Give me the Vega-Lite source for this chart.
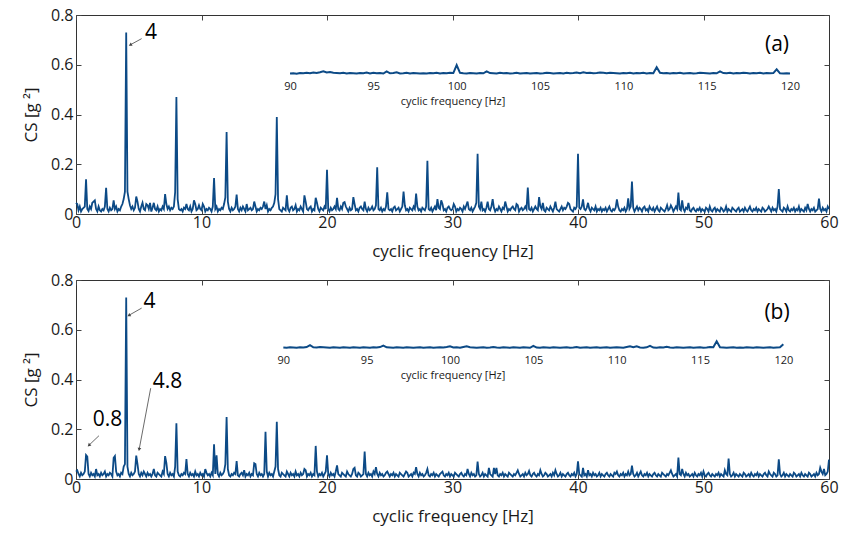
{
"$schema":"https://vega.github.io/schema/vega-lite/v6.json",
"padding":{"left":22,"top":6,"right":8,"bottom":5},
"spacing":11,
"config":{"font":"Open Sans","view":{"stroke":"#333","strokeWidth":1},
"axis":{"grid":false,"domain":false,"labelFlush":false,"labelColor":"#1a1a1a","titleColor":"#1a1a1a","tickColor":"#444","labelFontSize":16,"titleFontSize":17,"titleFontWeight":"normal","labelFont":"Open Sans","titleFont":"Open Sans"}},
"datasets":{
"main":[
{"f":0,"a":0.045,"b":0.03},{"f":0.1,"a":0.04,"b":0.035},{"f":0.2,"a":0.015,"b":0.02},{"f":0.3,"a":0.03,"b":0.01},{"f":0.4,"a":0.01,"b":0.025},{"f":0.5,"a":0.02,"b":0.015},{"f":0.6,"a":0.025,"b":0.02},{"f":0.7,"a":0.03,"b":0.03},{"f":0.8,"a":0.14,"b":0.096},{"f":0.9,"a":0.02,"b":0.09},
{"f":1,"a":0.012,"b":0.02},{"f":1.1,"a":0.03,"b":0.01},{"f":1.2,"a":0.02,"b":0.025},{"f":1.3,"a":0.045,"b":0.015},{"f":1.4,"a":0.05,"b":0.02},{"f":1.5,"a":0.055,"b":0.01},{"f":1.6,"a":0.02,"b":0.04},{"f":1.7,"a":0.01,"b":0.015},{"f":1.8,"a":0.03,"b":0.02},{"f":1.9,"a":0.015,"b":0.01},
{"f":2,"a":0.01,"b":0.025},{"f":2.1,"a":0.02,"b":0.015},{"f":2.2,"a":0.015,"b":0.02},{"f":2.3,"a":0.03,"b":0.03},{"f":2.4,"a":0.105,"b":0.01},{"f":2.5,"a":0.02,"b":0.02},{"f":2.6,"a":0.01,"b":0.015},{"f":2.7,"a":0.025,"b":0.025},{"f":2.8,"a":0.015,"b":0.02},{"f":2.9,"a":0.02,"b":0.01},
{"f":3,"a":0.055,"b":0.085},{"f":3.1,"a":0.02,"b":0.092},{"f":3.2,"a":0.03,"b":0.03},{"f":3.3,"a":0.01,"b":0.015},{"f":3.4,"a":0.02,"b":0.02},{"f":3.5,"a":0.015,"b":0.01},{"f":3.6,"a":0.03,"b":0.025},{"f":3.7,"a":0.04,"b":0.02},{"f":3.8,"a":0.06,"b":0.05},{"f":3.9,"a":0.09,"b":0.06},
{"f":4,"a":0.73,"b":0.73},{"f":4.1,"a":0.09,"b":0.05},{"f":4.2,"a":0.06,"b":0.02},{"f":4.3,"a":0.035,"b":0.01},{"f":4.4,"a":0.02,"b":0.025},{"f":4.5,"a":0.03,"b":0.015},{"f":4.6,"a":0.015,"b":0.02},{"f":4.7,"a":0.025,"b":0.03},{"f":4.8,"a":0.07,"b":0.094},{"f":4.9,"a":0.05,"b":0.06},
{"f":5,"a":0.02,"b":0.02},{"f":5.1,"a":0.01,"b":0.01},{"f":5.2,"a":0.03,"b":0.025},{"f":5.3,"a":0.045,"b":0.015},{"f":5.4,"a":0.02,"b":0.03},{"f":5.5,"a":0.015,"b":0.02},{"f":5.6,"a":0.04,"b":0.01},{"f":5.7,"a":0.035,"b":0.025},{"f":5.8,"a":0.02,"b":0.015},{"f":5.9,"a":0.045,"b":0.02},
{"f":6,"a":0.01,"b":0.01},{"f":6.1,"a":0.025,"b":0.02},{"f":6.2,"a":0.045,"b":0.04},{"f":6.3,"a":0.02,"b":0.015},{"f":6.4,"a":0.015,"b":0.01},{"f":6.5,"a":0.03,"b":0.025},{"f":6.6,"a":0.01,"b":0.02},{"f":6.7,"a":0.02,"b":0.015},{"f":6.8,"a":0.015,"b":0.01},{"f":6.9,"a":0.03,"b":0.03},
{"f":7,"a":0.02,"b":0.02},{"f":7.1,"a":0.08,"b":0.092},{"f":7.2,"a":0.04,"b":0.065},{"f":7.3,"a":0.02,"b":0.02},{"f":7.4,"a":0.03,"b":0.01},{"f":7.5,"a":0.015,"b":0.025},{"f":7.6,"a":0.025,"b":0.015},{"f":7.7,"a":0.02,"b":0.02},{"f":7.8,"a":0.03,"b":0.01},{"f":7.9,"a":0.088,"b":0.05},
{"f":8,"a":0.47,"b":0.224},{"f":8.1,"a":0.06,"b":0.03},{"f":8.2,"a":0.02,"b":0.015},{"f":8.3,"a":0.015,"b":0.01},{"f":8.4,"a":0.02,"b":0.02},{"f":8.5,"a":0.01,"b":0.015},{"f":8.6,"a":0.025,"b":0.025},{"f":8.7,"a":0.02,"b":0.02},{"f":8.8,"a":0.04,"b":0.08},{"f":8.9,"a":0.02,"b":0.02},
{"f":9,"a":0.015,"b":0.01},{"f":9.1,"a":0.03,"b":0.025},{"f":9.2,"a":0.01,"b":0.015},{"f":9.3,"a":0.02,"b":0.02},{"f":9.4,"a":0.055,"b":0.01},{"f":9.5,"a":0.04,"b":0.03},{"f":9.6,"a":0.015,"b":0.015},{"f":9.7,"a":0.02,"b":0.02},{"f":9.8,"a":0.035,"b":0.01},{"f":9.9,"a":0.02,"b":0.025},
{"f":10,"a":0.015,"b":0.015},{"f":10.1,"a":0.04,"b":0.02},{"f":10.2,"a":0.03,"b":0.01},{"f":10.3,"a":0.01,"b":0.04},{"f":10.4,"a":0.02,"b":0.025},{"f":10.5,"a":0.015,"b":0.015},{"f":10.6,"a":0.025,"b":0.02},{"f":10.7,"a":0.02,"b":0.01},{"f":10.8,"a":0.01,"b":0.025},{"f":10.9,"a":0.03,"b":0.015},
{"f":11,"a":0.145,"b":0.14},{"f":11.1,"a":0.02,"b":0.02},{"f":11.2,"a":0.03,"b":0.095},{"f":11.3,"a":0.01,"b":0.02},{"f":11.4,"a":0.02,"b":0.01},{"f":11.5,"a":0.015,"b":0.025},{"f":11.6,"a":0.025,"b":0.015},{"f":11.7,"a":0.02,"b":0.02},{"f":11.8,"a":0.04,"b":0.03},{"f":11.9,"a":0.067,"b":0.06},
{"f":12,"a":0.33,"b":0.249},{"f":12.1,"a":0.05,"b":0.04},{"f":12.2,"a":0.02,"b":0.015},{"f":12.3,"a":0.01,"b":0.01},{"f":12.4,"a":0.025,"b":0.02},{"f":12.5,"a":0.015,"b":0.015},{"f":12.6,"a":0.02,"b":0.025},{"f":12.7,"a":0.03,"b":0.02},{"f":12.8,"a":0.078,"b":0.072},{"f":12.9,"a":0.02,"b":0.015},
{"f":13,"a":0.01,"b":0.01},{"f":13.1,"a":0.025,"b":0.02},{"f":13.2,"a":0.015,"b":0.025},{"f":13.3,"a":0.03,"b":0.015},{"f":13.4,"a":0.02,"b":0.035},{"f":13.5,"a":0.01,"b":0.01},{"f":13.6,"a":0.04,"b":0.02},{"f":13.7,"a":0.015,"b":0.015},{"f":13.8,"a":0.02,"b":0.025},{"f":13.9,"a":0.025,"b":0.01},
{"f":14,"a":0.015,"b":0.02},{"f":14.1,"a":0.02,"b":0.015},{"f":14.2,"a":0.05,"b":0.063},{"f":14.3,"a":0.03,"b":0.06},{"f":14.4,"a":0.01,"b":0.02},{"f":14.5,"a":0.02,"b":0.01},{"f":14.6,"a":0.015,"b":0.025},{"f":14.7,"a":0.025,"b":0.015},{"f":14.8,"a":0.02,"b":0.02},{"f":14.9,"a":0.03,"b":0.01},
{"f":15,"a":0.05,"b":0.02},{"f":15.1,"a":0.02,"b":0.19},{"f":15.2,"a":0.035,"b":0.03},{"f":15.3,"a":0.01,"b":0.01},{"f":15.4,"a":0.02,"b":0.025},{"f":15.5,"a":0.015,"b":0.015},{"f":15.6,"a":0.025,"b":0.02},{"f":15.7,"a":0.03,"b":0.01},{"f":15.8,"a":0.045,"b":0.03},{"f":15.9,"a":0.08,"b":0.05},
{"f":16,"a":0.39,"b":0.23},{"f":16.1,"a":0.06,"b":0.04},{"f":16.2,"a":0.02,"b":0.015},{"f":16.3,"a":0.015,"b":0.01},{"f":16.4,"a":0.01,"b":0.025},{"f":16.5,"a":0.025,"b":0.02},{"f":16.6,"a":0.02,"b":0.015},{"f":16.7,"a":0.015,"b":0.01},{"f":16.8,"a":0.075,"b":0.03},{"f":16.9,"a":0.02,"b":0.02},
{"f":17,"a":0.01,"b":0.01},{"f":17.1,"a":0.025,"b":0.025},{"f":17.2,"a":0.03,"b":0.015},{"f":17.3,"a":0.015,"b":0.02},{"f":17.4,"a":0.02,"b":0.01},{"f":17.5,"a":0.035,"b":0.03},{"f":17.6,"a":0.01,"b":0.015},{"f":17.7,"a":0.02,"b":0.02},{"f":17.8,"a":0.015,"b":0.01},{"f":17.9,"a":0.03,"b":0.025},
{"f":18,"a":0.02,"b":0.015},{"f":18.1,"a":0.01,"b":0.02},{"f":18.2,"a":0.075,"b":0.04},{"f":18.3,"a":0.05,"b":0.035},{"f":18.4,"a":0.02,"b":0.01},{"f":18.5,"a":0.015,"b":0.02},{"f":18.6,"a":0.025,"b":0.015},{"f":18.7,"a":0.03,"b":0.025},{"f":18.8,"a":0.01,"b":0.01},{"f":18.9,"a":0.02,"b":0.02},
{"f":19,"a":0.015,"b":0.015},{"f":19.1,"a":0.065,"b":0.133},{"f":19.2,"a":0.045,"b":0.03},{"f":19.3,"a":0.02,"b":0.01},{"f":19.4,"a":0.01,"b":0.02},{"f":19.5,"a":0.025,"b":0.015},{"f":19.6,"a":0.02,"b":0.025},{"f":19.7,"a":0.015,"b":0.01},{"f":19.8,"a":0.03,"b":0.02},{"f":19.9,"a":0.02,"b":0.03},
{"f":20,"a":0.178,"b":0.095},{"f":20.1,"a":0.02,"b":0.02},{"f":20.2,"a":0.01,"b":0.01},{"f":20.3,"a":0.025,"b":0.025},{"f":20.4,"a":0.015,"b":0.015},{"f":20.5,"a":0.02,"b":0.02},{"f":20.6,"a":0.03,"b":0.01},{"f":20.7,"a":0.02,"b":0.03},{"f":20.8,"a":0.065,"b":0.055},{"f":20.9,"a":0.02,"b":0.02},
{"f":21,"a":0.015,"b":0.015},{"f":21.1,"a":0.03,"b":0.01},{"f":21.2,"a":0.02,"b":0.025},{"f":21.3,"a":0.045,"b":0.02},{"f":21.4,"a":0.048,"b":0.015},{"f":21.5,"a":0.03,"b":0.01},{"f":21.6,"a":0.02,"b":0.03},{"f":21.7,"a":0.01,"b":0.02},{"f":21.8,"a":0.025,"b":0.015},{"f":21.9,"a":0.015,"b":0.01},
{"f":22,"a":0.02,"b":0.02},{"f":22.1,"a":0.068,"b":0.04},{"f":22.2,"a":0.04,"b":0.045},{"f":22.3,"a":0.015,"b":0.015},{"f":22.4,"a":0.02,"b":0.01},{"f":22.5,"a":0.01,"b":0.025},{"f":22.6,"a":0.025,"b":0.02},{"f":22.7,"a":0.03,"b":0.01},{"f":22.8,"a":0.02,"b":0.015},{"f":22.9,"a":0.015,"b":0.02},
{"f":23,"a":0.05,"b":0.11},{"f":23.1,"a":0.02,"b":0.02},{"f":23.2,"a":0.01,"b":0.01},{"f":23.3,"a":0.025,"b":0.025},{"f":23.4,"a":0.015,"b":0.015},{"f":23.5,"a":0.02,"b":0.02},{"f":23.6,"a":0.03,"b":0.01},{"f":23.7,"a":0.015,"b":0.03},{"f":23.8,"a":0.02,"b":0.02},{"f":23.9,"a":0.035,"b":0.048},
{"f":24,"a":0.188,"b":0.02},{"f":24.1,"a":0.02,"b":0.01},{"f":24.2,"a":0.015,"b":0.025},{"f":24.3,"a":0.025,"b":0.015},{"f":24.4,"a":0.01,"b":0.02},{"f":24.5,"a":0.02,"b":0.01},{"f":24.6,"a":0.015,"b":0.015},{"f":24.7,"a":0.03,"b":0.025},{"f":24.8,"a":0.087,"b":0.03},{"f":24.9,"a":0.02,"b":0.02},
{"f":25,"a":0.015,"b":0.01},{"f":25.1,"a":0.02,"b":0.02},{"f":25.2,"a":0.01,"b":0.015},{"f":25.3,"a":0.025,"b":0.025},{"f":25.4,"a":0.03,"b":0.01},{"f":25.5,"a":0.015,"b":0.02},{"f":25.6,"a":0.02,"b":0.015},{"f":25.7,"a":0.025,"b":0.01},{"f":25.8,"a":0.01,"b":0.025},{"f":25.9,"a":0.02,"b":0.02},
{"f":26,"a":0.03,"b":0.015},{"f":26.1,"a":0.09,"b":0.01},{"f":26.2,"a":0.035,"b":0.02},{"f":26.3,"a":0.015,"b":0.03},{"f":26.4,"a":0.02,"b":0.025},{"f":26.5,"a":0.01,"b":0.01},{"f":26.6,"a":0.025,"b":0.015},{"f":26.7,"a":0.02,"b":0.02},{"f":26.8,"a":0.015,"b":0.01},{"f":26.9,"a":0.03,"b":0.025},
{"f":27,"a":0.02,"b":0.02},{"f":27.1,"a":0.082,"b":0.048},{"f":27.2,"a":0.03,"b":0.02},{"f":27.3,"a":0.015,"b":0.01},{"f":27.4,"a":0.02,"b":0.025},{"f":27.5,"a":0.01,"b":0.015},{"f":27.6,"a":0.025,"b":0.02},{"f":27.7,"a":0.02,"b":0.01},{"f":27.8,"a":0.015,"b":0.015},{"f":27.9,"a":0.03,"b":0.025},
{"f":28,"a":0.214,"b":0.04},{"f":28.1,"a":0.02,"b":0.015},{"f":28.2,"a":0.015,"b":0.01},{"f":28.3,"a":0.025,"b":0.02},{"f":28.4,"a":0.01,"b":0.015},{"f":28.5,"a":0.02,"b":0.025},{"f":28.6,"a":0.03,"b":0.01},{"f":28.7,"a":0.015,"b":0.02},{"f":28.8,"a":0.06,"b":0.015},{"f":28.9,"a":0.025,"b":0.01},
{"f":29,"a":0.02,"b":0.02},{"f":29.1,"a":0.055,"b":0.025},{"f":29.2,"a":0.04,"b":0.03},{"f":29.3,"a":0.015,"b":0.015},{"f":29.4,"a":0.02,"b":0.01},{"f":29.5,"a":0.01,"b":0.02},{"f":29.6,"a":0.025,"b":0.015},{"f":29.7,"a":0.03,"b":0.025},{"f":29.8,"a":0.02,"b":0.01},{"f":29.9,"a":0.015,"b":0.02},
{"f":30,"a":0.02,"b":0.015},{"f":30.1,"a":0.04,"b":0.01},{"f":30.2,"a":0.03,"b":0.025},{"f":30.3,"a":0.01,"b":0.02},{"f":30.4,"a":0.02,"b":0.015},{"f":30.5,"a":0.015,"b":0.01},{"f":30.6,"a":0.025,"b":0.02},{"f":30.7,"a":0.02,"b":0.025},{"f":30.8,"a":0.01,"b":0.015},{"f":30.9,"a":0.03,"b":0.01},
{"f":31,"a":0.02,"b":0.02},{"f":31.1,"a":0.035,"b":0.015},{"f":31.2,"a":0.05,"b":0.04},{"f":31.3,"a":0.02,"b":0.02},{"f":31.4,"a":0.015,"b":0.01},{"f":31.5,"a":0.025,"b":0.025},{"f":31.6,"a":0.01,"b":0.015},{"f":31.7,"a":0.02,"b":0.02},{"f":31.8,"a":0.03,"b":0.01},{"f":31.9,"a":0.045,"b":0.015},
{"f":32,"a":0.242,"b":0.07},{"f":32.1,"a":0.03,"b":0.02},{"f":32.2,"a":0.02,"b":0.01},{"f":32.3,"a":0.05,"b":0.015},{"f":32.4,"a":0.015,"b":0.025},{"f":32.5,"a":0.02,"b":0.01},{"f":32.6,"a":0.01,"b":0.02},{"f":32.7,"a":0.025,"b":0.015},{"f":32.8,"a":0.05,"b":0.01},{"f":32.9,"a":0.02,"b":0.045},
{"f":33,"a":0.015,"b":0.02},{"f":33.1,"a":0.03,"b":0.015},{"f":33.2,"a":0.06,"b":0.01},{"f":33.3,"a":0.025,"b":0.045},{"f":33.4,"a":0.01,"b":0.02},{"f":33.5,"a":0.02,"b":0.045},{"f":33.6,"a":0.015,"b":0.015},{"f":33.7,"a":0.03,"b":0.01},{"f":33.8,"a":0.02,"b":0.02},{"f":33.9,"a":0.01,"b":0.015},
{"f":34,"a":0.025,"b":0.025},{"f":34.1,"a":0.02,"b":0.01},{"f":34.2,"a":0.05,"b":0.02},{"f":34.3,"a":0.03,"b":0.015},{"f":34.4,"a":0.01,"b":0.01},{"f":34.5,"a":0.02,"b":0.025},{"f":34.6,"a":0.015,"b":0.02},{"f":34.7,"a":0.025,"b":0.015},{"f":34.8,"a":0.03,"b":0.01},{"f":34.9,"a":0.02,"b":0.02},
{"f":35,"a":0.015,"b":0.015},{"f":35.1,"a":0.04,"b":0.025},{"f":35.2,"a":0.035,"b":0.035},{"f":35.3,"a":0.01,"b":0.02},{"f":35.4,"a":0.02,"b":0.01},{"f":35.5,"a":0.025,"b":0.015},{"f":35.6,"a":0.015,"b":0.02},{"f":35.7,"a":0.02,"b":0.01},{"f":35.8,"a":0.03,"b":0.025},{"f":35.9,"a":0.02,"b":0.015},
{"f":36,"a":0.106,"b":0.02},{"f":36.1,"a":0.02,"b":0.032},{"f":36.2,"a":0.015,"b":0.015},{"f":36.3,"a":0.025,"b":0.01},{"f":36.4,"a":0.01,"b":0.02},{"f":36.5,"a":0.02,"b":0.025},{"f":36.6,"a":0.03,"b":0.015},{"f":36.7,"a":0.02,"b":0.01},{"f":36.8,"a":0.015,"b":0.02},{"f":36.9,"a":0.068,"b":0.015},
{"f":37,"a":0.03,"b":0.035},{"f":37.1,"a":0.02,"b":0.02},{"f":37.2,"a":0.045,"b":0.01},{"f":37.3,"a":0.015,"b":0.015},{"f":37.4,"a":0.01,"b":0.025},{"f":37.5,"a":0.025,"b":0.02},{"f":37.6,"a":0.02,"b":0.01},{"f":37.7,"a":0.015,"b":0.015},{"f":37.8,"a":0.03,"b":0.02},{"f":37.9,"a":0.02,"b":0.01},
{"f":38,"a":0.01,"b":0.025},{"f":38.1,"a":0.025,"b":0.015},{"f":38.2,"a":0.05,"b":0.035},{"f":38.3,"a":0.02,"b":0.02},{"f":38.4,"a":0.015,"b":0.01},{"f":38.5,"a":0.01,"b":0.015},{"f":38.6,"a":0.02,"b":0.025},{"f":38.7,"a":0.03,"b":0.01},{"f":38.8,"a":0.015,"b":0.02},{"f":38.9,"a":0.025,"b":0.015},
{"f":39,"a":0.02,"b":0.01},{"f":39.1,"a":0.03,"b":0.02},{"f":39.2,"a":0.045,"b":0.025},{"f":39.3,"a":0.04,"b":0.015},{"f":39.4,"a":0.02,"b":0.01},{"f":39.5,"a":0.015,"b":0.02},{"f":39.6,"a":0.01,"b":0.015},{"f":39.7,"a":0.025,"b":0.025},{"f":39.8,"a":0.02,"b":0.01},{"f":39.9,"a":0.03,"b":0.02},
{"f":40,"a":0.242,"b":0.071},{"f":40.1,"a":0.025,"b":0.02},{"f":40.2,"a":0.02,"b":0.015},{"f":40.3,"a":0.03,"b":0.01},{"f":40.4,"a":0.059,"b":0.045},{"f":40.5,"a":0.02,"b":0.015},{"f":40.6,"a":0.015,"b":0.02},{"f":40.7,"a":0.025,"b":0.01},{"f":40.8,"a":0.045,"b":0.035},{"f":40.9,"a":0.02,"b":0.015},
{"f":41,"a":0.01,"b":0.02},{"f":41.1,"a":0.025,"b":0.01},{"f":41.2,"a":0.02,"b":0.025},{"f":41.3,"a":0.015,"b":0.015},{"f":41.4,"a":0.03,"b":0.02},{"f":41.5,"a":0.01,"b":0.01},{"f":41.6,"a":0.02,"b":0.015},{"f":41.7,"a":0.015,"b":0.025},{"f":41.8,"a":0.025,"b":0.01},{"f":41.9,"a":0.01,"b":0.02},
{"f":42,"a":0.02,"b":0.015},{"f":42.1,"a":0.015,"b":0.01},{"f":42.2,"a":0.025,"b":0.02},{"f":42.3,"a":0.01,"b":0.025},{"f":42.4,"a":0.02,"b":0.015},{"f":42.5,"a":0.03,"b":0.01},{"f":42.6,"a":0.015,"b":0.02},{"f":42.7,"a":0.01,"b":0.015},{"f":42.8,"a":0.02,"b":0.01},{"f":42.9,"a":0.015,"b":0.025},
{"f":43,"a":0.025,"b":0.02},{"f":43.1,"a":0.059,"b":0.03},{"f":43.2,"a":0.03,"b":0.015},{"f":43.3,"a":0.015,"b":0.01},{"f":43.4,"a":0.01,"b":0.02},{"f":43.5,"a":0.02,"b":0.015},{"f":43.6,"a":0.015,"b":0.025},{"f":43.7,"a":0.025,"b":0.01},{"f":43.8,"a":0.01,"b":0.02},{"f":43.9,"a":0.02,"b":0.015},
{"f":44,"a":0.063,"b":0.03},{"f":44.1,"a":0.02,"b":0.015},{"f":44.2,"a":0.03,"b":0.02},{"f":44.3,"a":0.13,"b":0.054},{"f":44.4,"a":0.025,"b":0.02},{"f":44.5,"a":0.01,"b":0.01},{"f":44.6,"a":0.02,"b":0.015},{"f":44.7,"a":0.03,"b":0.025},{"f":44.8,"a":0.015,"b":0.01},{"f":44.9,"a":0.025,"b":0.02},
{"f":45,"a":0.02,"b":0.03},{"f":45.1,"a":0.01,"b":0.015},{"f":45.2,"a":0.025,"b":0.01},{"f":45.3,"a":0.03,"b":0.02},{"f":45.4,"a":0.015,"b":0.015},{"f":45.5,"a":0.02,"b":0.025},{"f":45.6,"a":0.01,"b":0.01},{"f":45.7,"a":0.03,"b":0.02},{"f":45.8,"a":0.02,"b":0.015},{"f":45.9,"a":0.015,"b":0.01},
{"f":46,"a":0.025,"b":0.02},{"f":46.1,"a":0.01,"b":0.025},{"f":46.2,"a":0.02,"b":0.015},{"f":46.3,"a":0.03,"b":0.01},{"f":46.4,"a":0.015,"b":0.02},{"f":46.5,"a":0.01,"b":0.015},{"f":46.6,"a":0.025,"b":0.01},{"f":46.7,"a":0.02,"b":0.025},{"f":46.8,"a":0.015,"b":0.02},{"f":46.9,"a":0.01,"b":0.015},
{"f":47,"a":0.02,"b":0.01},{"f":47.1,"a":0.035,"b":0.02},{"f":47.2,"a":0.015,"b":0.015},{"f":47.3,"a":0.02,"b":0.025},{"f":47.4,"a":0.035,"b":0.035},{"f":47.5,"a":0.025,"b":0.02},{"f":47.6,"a":0.01,"b":0.01},{"f":47.7,"a":0.02,"b":0.015},{"f":47.8,"a":0.03,"b":0.02},{"f":47.9,"a":0.02,"b":0.01},
{"f":48,"a":0.086,"b":0.086},{"f":48.1,"a":0.02,"b":0.02},{"f":48.2,"a":0.015,"b":0.015},{"f":48.3,"a":0.055,"b":0.04},{"f":48.4,"a":0.02,"b":0.02},{"f":48.5,"a":0.01,"b":0.01},{"f":48.6,"a":0.025,"b":0.025},{"f":48.7,"a":0.02,"b":0.015},{"f":48.8,"a":0.045,"b":0.02},{"f":48.9,"a":0.015,"b":0.01},
{"f":49,"a":0.01,"b":0.015},{"f":49.1,"a":0.02,"b":0.02},{"f":49.2,"a":0.025,"b":0.01},{"f":49.3,"a":0.015,"b":0.025},{"f":49.4,"a":0.01,"b":0.015},{"f":49.5,"a":0.02,"b":0.01},{"f":49.6,"a":0.015,"b":0.02},{"f":49.7,"a":0.025,"b":0.015},{"f":49.8,"a":0.01,"b":0.025},{"f":49.9,"a":0.02,"b":0.01},
{"f":50,"a":0.015,"b":0.03},{"f":50.1,"a":0.01,"b":0.015},{"f":50.2,"a":0.025,"b":0.01},{"f":50.3,"a":0.02,"b":0.02},{"f":50.4,"a":0.01,"b":0.025},{"f":50.5,"a":0.03,"b":0.015},{"f":50.6,"a":0.015,"b":0.01},{"f":50.7,"a":0.01,"b":0.02},{"f":50.8,"a":0.02,"b":0.015},{"f":50.9,"a":0.025,"b":0.01},
{"f":51,"a":0.01,"b":0.02},{"f":51.1,"a":0.02,"b":0.015},{"f":51.2,"a":0.015,"b":0.025},{"f":51.3,"a":0.01,"b":0.01},{"f":51.4,"a":0.025,"b":0.02},{"f":51.5,"a":0.02,"b":0.015},{"f":51.6,"a":0.01,"b":0.01},{"f":51.7,"a":0.015,"b":0.035},{"f":51.8,"a":0.03,"b":0.02},{"f":51.9,"a":0.01,"b":0.015},
{"f":52,"a":0.02,"b":0.082},{"f":52.1,"a":0.015,"b":0.02},{"f":52.2,"a":0.01,"b":0.01},{"f":52.3,"a":0.025,"b":0.015},{"f":52.4,"a":0.02,"b":0.025},{"f":52.5,"a":0.015,"b":0.01},{"f":52.6,"a":0.01,"b":0.02},{"f":52.7,"a":0.02,"b":0.015},{"f":52.8,"a":0.025,"b":0.01},{"f":52.9,"a":0.01,"b":0.02},
{"f":53,"a":0.015,"b":0.015},{"f":53.1,"a":0.02,"b":0.01},{"f":53.2,"a":0.01,"b":0.025},{"f":53.3,"a":0.025,"b":0.02},{"f":53.4,"a":0.015,"b":0.01},{"f":53.5,"a":0.01,"b":0.015},{"f":53.6,"a":0.02,"b":0.02},{"f":53.7,"a":0.03,"b":0.01},{"f":53.8,"a":0.015,"b":0.025},{"f":53.9,"a":0.01,"b":0.015},
{"f":54,"a":0.02,"b":0.01},{"f":54.1,"a":0.015,"b":0.02},{"f":54.2,"a":0.025,"b":0.015},{"f":54.3,"a":0.01,"b":0.025},{"f":54.4,"a":0.02,"b":0.01},{"f":54.5,"a":0.015,"b":0.02},{"f":54.6,"a":0.01,"b":0.015},{"f":54.7,"a":0.025,"b":0.01},{"f":54.8,"a":0.02,"b":0.02},{"f":54.9,"a":0.01,"b":0.025},
{"f":55,"a":0.015,"b":0.015},{"f":55.1,"a":0.02,"b":0.01},{"f":55.2,"a":0.03,"b":0.03},{"f":55.3,"a":0.02,"b":0.02},{"f":55.4,"a":0.01,"b":0.015},{"f":55.5,"a":0.025,"b":0.01},{"f":55.6,"a":0.015,"b":0.025},{"f":55.7,"a":0.02,"b":0.02},{"f":55.8,"a":0.01,"b":0.01},{"f":55.9,"a":0.03,"b":0.015},
{"f":56,"a":0.1,"b":0.079},{"f":56.1,"a":0.02,"b":0.02},{"f":56.2,"a":0.015,"b":0.01},{"f":56.3,"a":0.01,"b":0.015},{"f":56.4,"a":0.025,"b":0.025},{"f":56.5,"a":0.02,"b":0.01},{"f":56.6,"a":0.01,"b":0.02},{"f":56.7,"a":0.03,"b":0.015},{"f":56.8,"a":0.015,"b":0.01},{"f":56.9,"a":0.01,"b":0.02},
{"f":57,"a":0.02,"b":0.015},{"f":57.1,"a":0.015,"b":0.01},{"f":57.2,"a":0.025,"b":0.025},{"f":57.3,"a":0.01,"b":0.02},{"f":57.4,"a":0.02,"b":0.01},{"f":57.5,"a":0.015,"b":0.015},{"f":57.6,"a":0.03,"b":0.02},{"f":57.7,"a":0.01,"b":0.01},{"f":57.8,"a":0.02,"b":0.025},{"f":57.9,"a":0.015,"b":0.015},
{"f":58,"a":0.01,"b":0.01},{"f":58.1,"a":0.025,"b":0.02},{"f":58.2,"a":0.015,"b":0.015},{"f":58.3,"a":0.04,"b":0.01},{"f":58.4,"a":0.02,"b":0.025},{"f":58.5,"a":0.01,"b":0.02},{"f":58.6,"a":0.02,"b":0.01},{"f":58.7,"a":0.015,"b":0.015},{"f":58.8,"a":0.025,"b":0.02},{"f":58.9,"a":0.01,"b":0.01},
{"f":59,"a":0.015,"b":0.025},{"f":59.1,"a":0.02,"b":0.015},{"f":59.2,"a":0.062,"b":0.02},{"f":59.3,"a":0.02,"b":0.045},{"f":59.4,"a":0.01,"b":0.03},{"f":59.5,"a":0.025,"b":0.02},{"f":59.6,"a":0.015,"b":0.04},{"f":59.7,"a":0.02,"b":0.015},{"f":59.8,"a":0.01,"b":0.02},{"f":59.9,"a":0.03,"b":0.03},
{"f":60,"a":0.02,"b":0.078}
],
"inset":[
{"g":90,"a":0.003,"b":0.003},{"g":90.2,"a":0.004,"b":0.002},{"g":90.4,"a":0.002,"b":0.004},{"g":90.6,"a":0.005,"b":0.003},{"g":90.8,"a":0.004,"b":0.002},
{"g":91,"a":0.006,"b":0.004},{"g":91.2,"a":0.004,"b":0.003},{"g":91.4,"a":0.007,"b":0.005},{"g":91.6,"a":0.005,"b":0.013},{"g":91.8,"a":0.008,"b":0.004},
{"g":92,"a":0.012,"b":0.003},{"g":92.2,"a":0.007,"b":0.005},{"g":92.4,"a":0.009,"b":0.004},{"g":92.6,"a":0.006,"b":0.003},{"g":92.8,"a":0.005,"b":0.002},
{"g":93,"a":0.004,"b":0.004},{"g":93.2,"a":0.006,"b":0.003},{"g":93.4,"a":0.003,"b":0.002},{"g":93.6,"a":0.005,"b":0.004},{"g":93.8,"a":0.004,"b":0.003},
{"g":94,"a":0.003,"b":0.002},{"g":94.2,"a":0.005,"b":0.004},{"g":94.4,"a":0.004,"b":0.003},{"g":94.6,"a":0.007,"b":0.002},{"g":94.8,"a":0.003,"b":0.004},
{"g":95,"a":0.006,"b":0.003},{"g":95.2,"a":0.004,"b":0.002},{"g":95.4,"a":0.005,"b":0.004},{"g":95.6,"a":0.003,"b":0.003},{"g":95.8,"a":0.012,"b":0.005},
{"g":96,"a":0.004,"b":0.011},{"g":96.2,"a":0.005,"b":0.004},{"g":96.4,"a":0.008,"b":0.003},{"g":96.6,"a":0.003,"b":0.002},{"g":96.8,"a":0.004,"b":0.004},
{"g":97,"a":0.006,"b":0.003},{"g":97.2,"a":0.003,"b":0.002},{"g":97.4,"a":0.005,"b":0.004},{"g":97.6,"a":0.004,"b":0.003},{"g":97.8,"a":0.003,"b":0.002},
{"g":98,"a":0.004,"b":0.003},{"g":98.2,"a":0.003,"b":0.004},{"g":98.4,"a":0.005,"b":0.002},{"g":98.6,"a":0.004,"b":0.003},{"g":98.8,"a":0.006,"b":0.004},
{"g":99,"a":0.003,"b":0.002},{"g":99.2,"a":0.005,"b":0.003},{"g":99.4,"a":0.004,"b":0.004},{"g":99.6,"a":0.006,"b":0.003},{"g":99.8,"a":0.005,"b":0.005},
{"g":100,"a":0.037,"b":0.008},{"g":100.2,"a":0.006,"b":0.003},{"g":100.4,"a":0.004,"b":0.004},{"g":100.6,"a":0.003,"b":0.002},{"g":100.8,"a":0.005,"b":0.005},
{"g":101,"a":0.004,"b":0.008},{"g":101.2,"a":0.003,"b":0.004},{"g":101.4,"a":0.005,"b":0.003},{"g":101.6,"a":0.004,"b":0.002},{"g":101.8,"a":0.012,"b":0.003},
{"g":102,"a":0.005,"b":0.004},{"g":102.2,"a":0.004,"b":0.002},{"g":102.4,"a":0.003,"b":0.003},{"g":102.6,"a":0.006,"b":0.005},{"g":102.8,"a":0.004,"b":0.003},
{"g":103,"a":0.005,"b":0.002},{"g":103.2,"a":0.003,"b":0.004},{"g":103.4,"a":0.004,"b":0.003},{"g":103.6,"a":0.006,"b":0.002},{"g":103.8,"a":0.003,"b":0.004},
{"g":104,"a":0.004,"b":0.003},{"g":104.2,"a":0.005,"b":0.002},{"g":104.4,"a":0.003,"b":0.004},{"g":104.6,"a":0.004,"b":0.003},{"g":104.8,"a":0.005,"b":0.002},
{"g":105,"a":0.003,"b":0.01},{"g":105.2,"a":0.004,"b":0.003},{"g":105.4,"a":0.006,"b":0.002},{"g":105.6,"a":0.005,"b":0.004},{"g":105.8,"a":0.003,"b":0.003},
{"g":106,"a":0.004,"b":0.002},{"g":106.2,"a":0.005,"b":0.004},{"g":106.4,"a":0.003,"b":0.003},{"g":106.6,"a":0.006,"b":0.002},{"g":106.8,"a":0.004,"b":0.003},
{"g":107,"a":0.005,"b":0.004},{"g":107.2,"a":0.007,"b":0.002},{"g":107.4,"a":0.004,"b":0.003},{"g":107.6,"a":0.008,"b":0.005},{"g":107.8,"a":0.005,"b":0.002},
{"g":108,"a":0.006,"b":0.003},{"g":108.2,"a":0.004,"b":0.004},{"g":108.4,"a":0.005,"b":0.002},{"g":108.6,"a":0.007,"b":0.003},{"g":108.8,"a":0.006,"b":0.004},
{"g":109,"a":0.004,"b":0.002},{"g":109.2,"a":0.006,"b":0.003},{"g":109.4,"a":0.005,"b":0.004},{"g":109.6,"a":0.004,"b":0.002},{"g":109.8,"a":0.003,"b":0.003},
{"g":110,"a":0.005,"b":0.004},{"g":110.2,"a":0.004,"b":0.003},{"g":110.4,"a":0.006,"b":0.002},{"g":110.6,"a":0.003,"b":0.005},{"g":110.8,"a":0.005,"b":0.008},
{"g":111,"a":0.004,"b":0.004},{"g":111.2,"a":0.006,"b":0.008},{"g":111.4,"a":0.003,"b":0.003},{"g":111.6,"a":0.005,"b":0.002},{"g":111.8,"a":0.004,"b":0.004},
{"g":112,"a":0.028,"b":0.01},{"g":112.2,"a":0.006,"b":0.003},{"g":112.4,"a":0.004,"b":0.002},{"g":112.6,"a":0.005,"b":0.004},{"g":112.8,"a":0.003,"b":0.003},
{"g":113,"a":0.005,"b":0.006},{"g":113.2,"a":0.004,"b":0.003},{"g":113.4,"a":0.006,"b":0.002},{"g":113.6,"a":0.003,"b":0.004},{"g":113.8,"a":0.004,"b":0.003},
{"g":114,"a":0.005,"b":0.002},{"g":114.2,"a":0.003,"b":0.003},{"g":114.4,"a":0.004,"b":0.004},{"g":114.6,"a":0.006,"b":0.002},{"g":114.8,"a":0.005,"b":0.003},
{"g":115,"a":0.004,"b":0.004},{"g":115.2,"a":0.003,"b":0.002},{"g":115.4,"a":0.005,"b":0.003},{"g":115.6,"a":0.004,"b":0.005},{"g":115.8,"a":0.012,"b":0.004},
{"g":116,"a":0.005,"b":0.028},{"g":116.2,"a":0.004,"b":0.004},{"g":116.4,"a":0.006,"b":0.003},{"g":116.6,"a":0.003,"b":0.002},{"g":116.8,"a":0.005,"b":0.003},
{"g":117,"a":0.004,"b":0.004},{"g":117.2,"a":0.006,"b":0.002},{"g":117.4,"a":0.005,"b":0.003},{"g":117.6,"a":0.003,"b":0.002},{"g":117.8,"a":0.005,"b":0.004},
{"g":118,"a":0.004,"b":0.003},{"g":118.2,"a":0.006,"b":0.002},{"g":118.4,"a":0.003,"b":0.004},{"g":118.6,"a":0.005,"b":0.003},{"g":118.8,"a":0.004,"b":0.002},
{"g":119,"a":0.005,"b":0.003},{"g":119.2,"a":0.02,"b":0.004},{"g":119.4,"a":0.004,"b":0.002},{"g":119.6,"a":0.003,"b":0.003},{"g":119.8,"a":0.004,"b":0.004},
{"g":120,"a":0.003,"b":0.016}
],
"ann":[
{"p":"a","t":"4","x":5.98,"y":0.726},{"p":"a","t":"(a)","x":55.86,"y":0.681},
{"p":"b","t":"4","x":5.86,"y":0.712},{"p":"b","t":"(b)","x":55.86,"y":0.669},{"p":"b","t":"0.8","x":2.51,"y":0.237},{"p":"b","t":"4.8","x":7.29,"y":0.391}
],
"arrows":[
{"p":"a","k":"a4","x":5.23,"y":0.705,"x2":4.36,"y2":0.681},
{"p":"b","k":"b4","x":5.23,"y":0.687,"x2":4.25,"y2":0.659},
{"p":"b","k":"b08","x":1.83,"y":0.174,"x2":1.06,"y2":0.137},
{"p":"b","k":"b48","x":5.95,"y":0.365,"x2":5.04,"y2":0.121}
]
},
"vconcat":[
{"width":753,"height":199,
"layer":[
{"data":{"name":"main"},"mark":{"type":"line","color":"#0c4a86","strokeWidth":1.8},
"encoding":{"x":{"field":"f","type":"quantitative","scale":{"domain":[0,60],"nice":false,"zero":false},"axis":{"values":[0,10,20,30,40,50,60],"title":"cyclic frequency [Hz]","tickSize":-5,"labelPadding":5,"titlePadding":13}},
"y":{"field":"a","type":"quantitative","scale":{"domain":[0,0.8],"nice":false},"axis":{"values":[0,0.2,0.4,0.6,0.8],"format":".1~f","title":"CS [g ²]","tickSize":-5,"labelPadding":8,"titlePadding":10}}}},
{"data":{"name":"main"},"mark":{"type":"line","opacity":0},
"encoding":{"x":{"field":"f","type":"quantitative","scale":{"domain":[0,60],"nice":false,"zero":false},"axis":{"orient":"top","values":[0,10,20,30,40,50,60],"labels":false,"title":null,"tickSize":-5}},
"y":{"field":"a","type":"quantitative","scale":{"domain":[0,0.8],"nice":false},"axis":{"orient":"right","values":[0,0.2,0.4,0.6,0.8],"labels":false,"title":null,"tickSize":-5}}}},
{"data":{"name":"inset"},"mark":{"type":"line","color":"#0c4a86","strokeWidth":2},
"encoding":{"x":{"field":"g","type":"quantitative","scale":{"domain":[77.16,122.34],"nice":false,"zero":false},"axis":{"orient":"bottom","offset":-137,"values":[90,95,100,105,110,115,120],"ticks":false,"labelFontSize":11,"labelPadding":3,"title":"cyclic frequency [Hz]","titleFontSize":11,"titlePadding":4}},
"y":{"field":"a","type":"quantitative","scale":{"domain":[-0.5616,0.2384],"nice":false,"zero":false},"axis":null}}},
{"data":{"name":"ann"},"transform":[{"filter":"datum.p=='a'"}],"mark":{"type":"text","fontSize":21,"color":"#000","font":"Open Sans"},
"encoding":{"x":{"field":"x","type":"quantitative","scale":{"domain":[0,60],"nice":false,"zero":false},"axis":null},"y":{"field":"y","type":"quantitative","scale":{"domain":[0,0.8],"nice":false},"axis":null},"text":{"field":"t"}}},
{"data":{"name":"arrows"},"transform":[{"filter":"datum.p=='a'"}],"mark":{"type":"rule","color":"#444","strokeWidth":0.8},
"encoding":{"x":{"field":"x","type":"quantitative","scale":{"domain":[0,60],"nice":false,"zero":false},"axis":null},"y":{"field":"y","type":"quantitative","scale":{"domain":[0,0.8],"nice":false},"axis":null},"x2":{"field":"x2"},"y2":{"field":"y2"}}},
{"data":{"name":"arrows"},"transform":[{"filter":"datum.k=='a4'"}],"mark":{"type":"point","shape":"triangle","filled":true,"color":"#444","size":14,"angle":241,"opacity":1},
"encoding":{"x":{"field":"x2","type":"quantitative","scale":{"domain":[0,60],"nice":false,"zero":false},"axis":null},"y":{"field":"y2","type":"quantitative","scale":{"domain":[0,0.8],"nice":false},"axis":null}}}
],
"resolve":{"scale":{"x":"independent","y":"independent"}}
},
{"width":753,"height":199,
"layer":[
{"data":{"name":"main"},"mark":{"type":"line","color":"#0c4a86","strokeWidth":1.8},
"encoding":{"x":{"field":"f","type":"quantitative","scale":{"domain":[0,60],"nice":false,"zero":false},"axis":{"values":[0,10,20,30,40,50,60],"title":"cyclic frequency [Hz]","tickSize":-5,"labelPadding":5,"titlePadding":13}},
"y":{"field":"b","type":"quantitative","scale":{"domain":[0,0.8],"nice":false},"axis":{"values":[0,0.2,0.4,0.6,0.8],"format":".1~f","title":"CS [g ²]","tickSize":-5,"labelPadding":8,"titlePadding":10}}}},
{"data":{"name":"main"},"mark":{"type":"line","opacity":0},
"encoding":{"x":{"field":"f","type":"quantitative","scale":{"domain":[0,60],"nice":false,"zero":false},"axis":{"orient":"top","values":[0,10,20,30,40,50,60],"labels":false,"title":null,"tickSize":-5}},
"y":{"field":"b","type":"quantitative","scale":{"domain":[0,0.8],"nice":false},"axis":{"orient":"right","values":[0,0.2,0.4,0.6,0.8],"labels":false,"title":null,"tickSize":-5}}}},
{"data":{"name":"inset"},"mark":{"type":"line","color":"#0c4a86","strokeWidth":2},
"encoding":{"x":{"field":"g","type":"quantitative","scale":{"domain":[77.56,122.74],"nice":false,"zero":false},"axis":{"orient":"bottom","offset":-128,"values":[90,95,100,105,110,115,120],"ticks":false,"labelFontSize":11,"labelPadding":3,"title":"cyclic frequency [Hz]","titleFontSize":11,"titlePadding":4}},
"y":{"field":"b","type":"quantitative","scale":{"domain":[-0.5254,0.2746],"nice":false,"zero":false},"axis":null}}},
{"data":{"name":"ann"},"transform":[{"filter":"datum.p=='b'"}],"mark":{"type":"text","fontSize":21,"color":"#000","font":"Open Sans"},
"encoding":{"x":{"field":"x","type":"quantitative","scale":{"domain":[0,60],"nice":false,"zero":false},"axis":null},"y":{"field":"y","type":"quantitative","scale":{"domain":[0,0.8],"nice":false},"axis":null},"text":{"field":"t"}}},
{"data":{"name":"arrows"},"transform":[{"filter":"datum.p=='b'"}],"mark":{"type":"rule","color":"#444","strokeWidth":0.8},
"encoding":{"x":{"field":"x","type":"quantitative","scale":{"domain":[0,60],"nice":false,"zero":false},"axis":null},"y":{"field":"y","type":"quantitative","scale":{"domain":[0,0.8],"nice":false},"axis":null},"x2":{"field":"x2"},"y2":{"field":"y2"}}},
{"data":{"name":"arrows"},"transform":[{"filter":"datum.k=='b4'"}],"mark":{"type":"point","shape":"triangle","filled":true,"color":"#444","size":14,"angle":240,"opacity":1},
"encoding":{"x":{"field":"x2","type":"quantitative","scale":{"domain":[0,60],"nice":false,"zero":false},"axis":null},"y":{"field":"y2","type":"quantitative","scale":{"domain":[0,0.8],"nice":false},"axis":null}}},
{"data":{"name":"arrows"},"transform":[{"filter":"datum.k=='b08'"}],"mark":{"type":"point","shape":"triangle","filled":true,"color":"#444","size":14,"angle":226,"opacity":1},
"encoding":{"x":{"field":"x2","type":"quantitative","scale":{"domain":[0,60],"nice":false,"zero":false},"axis":null},"y":{"field":"y2","type":"quantitative","scale":{"domain":[0,0.8],"nice":false},"axis":null}}},
{"data":{"name":"arrows"},"transform":[{"filter":"datum.k=='b48'"}],"mark":{"type":"point","shape":"triangle","filled":true,"color":"#444","size":14,"angle":191,"opacity":1},
"encoding":{"x":{"field":"x2","type":"quantitative","scale":{"domain":[0,60],"nice":false,"zero":false},"axis":null},"y":{"field":"y2","type":"quantitative","scale":{"domain":[0,0.8],"nice":false},"axis":null}}}
],
"resolve":{"scale":{"x":"independent","y":"independent"}}
}
]
}
